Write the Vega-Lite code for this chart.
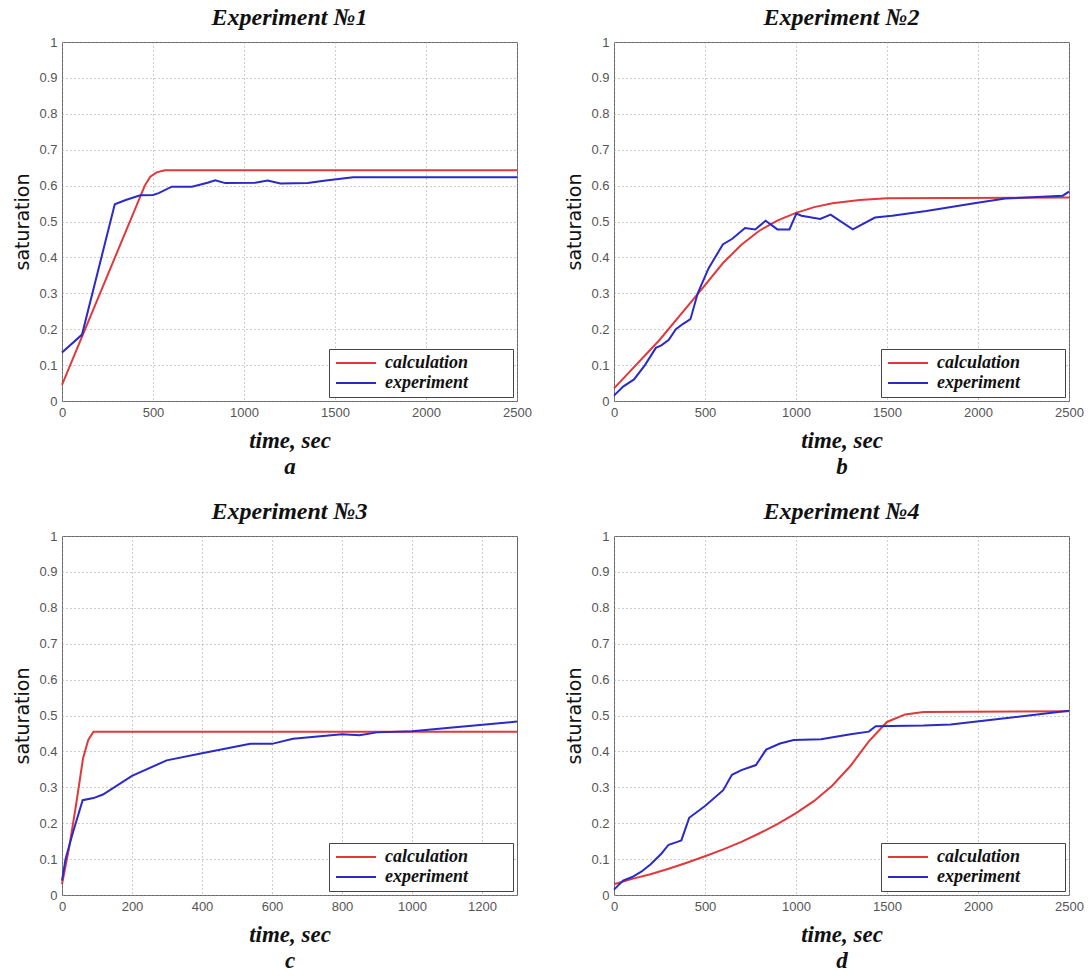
{
  "$schema": "https://vega.github.io/schema/vega-lite/v6.json",
  "background": "white",
  "padding": {"left": 13, "top": 5, "right": 8, "bottom": 2},
  "columns": 2,
  "spacing": {"row": 20, "column": 33},
  "resolve": {"legend": {"color": "independent"}, "scale": {"color": "independent"}},
  "config": {
    "view": {"stroke": "#666", "strokeWidth": 1},
    "title": {"font": "Liberation Serif", "fontStyle": "italic", "fontWeight": "bold", "fontSize": 24, "color": "#111", "offset": 6},
    "axis": {
      "grid": true, "gridColor": "#9a9a9a", "gridDash": [1, 3], "gridWidth": 1,
      "domain": false, "ticks": false, "labelFlush": false,
      "labelFont": "Liberation Sans", "labelFontSize": 13, "labelColor": "#555", "labelPadding": 5
    },
    "axisX": {
      "format": "d",
      "titleFont": "Liberation Serif", "titleFontStyle": "italic", "titleFontWeight": "bold", "titleFontSize": 23,
      "titleColor": "#111", "titlePadding": 10, "titleLineHeight": 26
    },
    "axisY": {
      "titleFont": "DejaVu Sans", "titleFontWeight": "normal", "titleFontSize": 19, "titleColor": "#111", "titlePadding": 6,
      "values": [0, 0.1, 0.2, 0.3, 0.4, 0.5, 0.6, 0.7, 0.8, 0.9, 1], "format": "~g"
    },
    "legend": {
      "orient": "bottom-right", "offset": 4, "strokeColor": "#444", "fillColor": "white", "padding": 5,
      "symbolType": "M-2.86,0H2.86", "symbolSize": 196, "symbolStrokeWidth": 2.5, "symbolOffset": 13,
      "labelFont": "Liberation Serif", "labelFontStyle": "italic", "labelFontWeight": "bold", "labelFontSize": 18, "labelColor": "#111",
      "rowPadding": 2, "labelOffset": 20
    },
    "line": {"strokeWidth": 2}
  },
  "datasets": {
    "a": [
      {"t": 0, "s": 0.045, "series": "calculation"},
      {"t": 455, "s": 0.6, "series": "calculation"},
      {"t": 485, "s": 0.625, "series": "calculation"},
      {"t": 520, "s": 0.637, "series": "calculation"},
      {"t": 565, "s": 0.643, "series": "calculation"},
      {"t": 2500, "s": 0.643, "series": "calculation"},
      {"t": 0, "s": 0.135, "series": "experiment"},
      {"t": 110, "s": 0.185, "series": "experiment"},
      {"t": 290, "s": 0.548, "series": "experiment"},
      {"t": 350, "s": 0.56, "series": "experiment"},
      {"t": 430, "s": 0.573, "series": "experiment"},
      {"t": 500, "s": 0.574, "series": "experiment"},
      {"t": 531, "s": 0.579, "series": "experiment"},
      {"t": 603, "s": 0.597, "series": "experiment"},
      {"t": 714, "s": 0.597, "series": "experiment"},
      {"t": 800, "s": 0.608, "series": "experiment"},
      {"t": 842, "s": 0.615, "series": "experiment"},
      {"t": 897, "s": 0.607, "series": "experiment"},
      {"t": 1062, "s": 0.608, "series": "experiment"},
      {"t": 1130, "s": 0.614, "series": "experiment"},
      {"t": 1200, "s": 0.606, "series": "experiment"},
      {"t": 1350, "s": 0.607, "series": "experiment"},
      {"t": 1450, "s": 0.614, "series": "experiment"},
      {"t": 1600, "s": 0.623, "series": "experiment"},
      {"t": 2500, "s": 0.623, "series": "experiment"}
    ],
    "b": [
      {"t": 0, "s": 0.035, "series": "calculation"},
      {"t": 250, "s": 0.17, "series": "calculation"},
      {"t": 480, "s": 0.31, "series": "calculation"},
      {"t": 600, "s": 0.385, "series": "calculation"},
      {"t": 700, "s": 0.435, "series": "calculation"},
      {"t": 800, "s": 0.475, "series": "calculation"},
      {"t": 900, "s": 0.503, "series": "calculation"},
      {"t": 1000, "s": 0.524, "series": "calculation"},
      {"t": 1100, "s": 0.54, "series": "calculation"},
      {"t": 1200, "s": 0.551, "series": "calculation"},
      {"t": 1350, "s": 0.56, "series": "calculation"},
      {"t": 1500, "s": 0.565, "series": "calculation"},
      {"t": 2500, "s": 0.567, "series": "calculation"},
      {"t": 0, "s": 0.015, "series": "experiment"},
      {"t": 50, "s": 0.04, "series": "experiment"},
      {"t": 110, "s": 0.06, "series": "experiment"},
      {"t": 170, "s": 0.1, "series": "experiment"},
      {"t": 230, "s": 0.148, "series": "experiment"},
      {"t": 260, "s": 0.155, "series": "experiment"},
      {"t": 300, "s": 0.17, "series": "experiment"},
      {"t": 340, "s": 0.2, "series": "experiment"},
      {"t": 380, "s": 0.215, "series": "experiment"},
      {"t": 420, "s": 0.228, "series": "experiment"},
      {"t": 460, "s": 0.3, "series": "experiment"},
      {"t": 520, "s": 0.37, "series": "experiment"},
      {"t": 598, "s": 0.436, "series": "experiment"},
      {"t": 650, "s": 0.452, "series": "experiment"},
      {"t": 720, "s": 0.482, "series": "experiment"},
      {"t": 776, "s": 0.478, "series": "experiment"},
      {"t": 833, "s": 0.502, "series": "experiment"},
      {"t": 898, "s": 0.478, "series": "experiment"},
      {"t": 964, "s": 0.478, "series": "experiment"},
      {"t": 1002, "s": 0.522, "series": "experiment"},
      {"t": 1030, "s": 0.516, "series": "experiment"},
      {"t": 1133, "s": 0.507, "series": "experiment"},
      {"t": 1190, "s": 0.519, "series": "experiment"},
      {"t": 1312, "s": 0.478, "series": "experiment"},
      {"t": 1434, "s": 0.511, "series": "experiment"},
      {"t": 1528, "s": 0.516, "series": "experiment"},
      {"t": 1716, "s": 0.529, "series": "experiment"},
      {"t": 1997, "s": 0.552, "series": "experiment"},
      {"t": 2150, "s": 0.564, "series": "experiment"},
      {"t": 2466, "s": 0.572, "series": "experiment"},
      {"t": 2500, "s": 0.583, "series": "experiment"}
    ],
    "c": [
      {"t": 0, "s": 0.03, "series": "calculation"},
      {"t": 20, "s": 0.13, "series": "calculation"},
      {"t": 40, "s": 0.25, "series": "calculation"},
      {"t": 60, "s": 0.38, "series": "calculation"},
      {"t": 75, "s": 0.432, "series": "calculation"},
      {"t": 90, "s": 0.455, "series": "calculation"},
      {"t": 1300, "s": 0.455, "series": "calculation"},
      {"t": 0, "s": 0.04, "series": "experiment"},
      {"t": 10, "s": 0.1, "series": "experiment"},
      {"t": 30, "s": 0.17, "series": "experiment"},
      {"t": 59, "s": 0.264, "series": "experiment"},
      {"t": 90, "s": 0.27, "series": "experiment"},
      {"t": 117, "s": 0.28, "series": "experiment"},
      {"t": 200, "s": 0.332, "series": "experiment"},
      {"t": 299, "s": 0.375, "series": "experiment"},
      {"t": 400, "s": 0.395, "series": "experiment"},
      {"t": 538, "s": 0.421, "series": "experiment"},
      {"t": 600, "s": 0.421, "series": "experiment"},
      {"t": 660, "s": 0.435, "series": "experiment"},
      {"t": 800, "s": 0.448, "series": "experiment"},
      {"t": 850, "s": 0.445, "series": "experiment"},
      {"t": 900, "s": 0.453, "series": "experiment"},
      {"t": 1000, "s": 0.456, "series": "experiment"},
      {"t": 1100, "s": 0.465, "series": "experiment"},
      {"t": 1300, "s": 0.483, "series": "experiment"}
    ],
    "d": [
      {"t": 0, "s": 0.03, "series": "calculation"},
      {"t": 100, "s": 0.045, "series": "calculation"},
      {"t": 200, "s": 0.058, "series": "calculation"},
      {"t": 300, "s": 0.073, "series": "calculation"},
      {"t": 400, "s": 0.09, "series": "calculation"},
      {"t": 500, "s": 0.108, "series": "calculation"},
      {"t": 600, "s": 0.127, "series": "calculation"},
      {"t": 700, "s": 0.148, "series": "calculation"},
      {"t": 800, "s": 0.172, "series": "calculation"},
      {"t": 900, "s": 0.198, "series": "calculation"},
      {"t": 1000, "s": 0.228, "series": "calculation"},
      {"t": 1100, "s": 0.262, "series": "calculation"},
      {"t": 1200, "s": 0.305, "series": "calculation"},
      {"t": 1300, "s": 0.36, "series": "calculation"},
      {"t": 1400, "s": 0.428, "series": "calculation"},
      {"t": 1500, "s": 0.482, "series": "calculation"},
      {"t": 1600, "s": 0.503, "series": "calculation"},
      {"t": 1700, "s": 0.51, "series": "calculation"},
      {"t": 2500, "s": 0.512, "series": "calculation"},
      {"t": 0, "s": 0.015, "series": "experiment"},
      {"t": 50, "s": 0.04, "series": "experiment"},
      {"t": 100, "s": 0.05, "series": "experiment"},
      {"t": 150, "s": 0.065, "series": "experiment"},
      {"t": 200, "s": 0.085, "series": "experiment"},
      {"t": 260, "s": 0.115, "series": "experiment"},
      {"t": 300, "s": 0.14, "series": "experiment"},
      {"t": 348, "s": 0.148, "series": "experiment"},
      {"t": 370, "s": 0.152, "series": "experiment"},
      {"t": 413, "s": 0.215, "series": "experiment"},
      {"t": 500, "s": 0.248, "series": "experiment"},
      {"t": 600, "s": 0.292, "series": "experiment"},
      {"t": 648, "s": 0.335, "series": "experiment"},
      {"t": 700, "s": 0.348, "series": "experiment"},
      {"t": 780, "s": 0.362, "series": "experiment"},
      {"t": 836, "s": 0.405, "series": "experiment"},
      {"t": 912, "s": 0.422, "series": "experiment"},
      {"t": 987, "s": 0.432, "series": "experiment"},
      {"t": 1137, "s": 0.434, "series": "experiment"},
      {"t": 1300, "s": 0.448, "series": "experiment"},
      {"t": 1400, "s": 0.455, "series": "experiment"},
      {"t": 1438, "s": 0.47, "series": "experiment"},
      {"t": 1701, "s": 0.472, "series": "experiment"},
      {"t": 1850, "s": 0.475, "series": "experiment"},
      {"t": 2077, "s": 0.488, "series": "experiment"},
      {"t": 2500, "s": 0.513, "series": "experiment"}
    ]
  },
  "concat": [
    {
      "title": "Experiment №1",
      "width": 455, "height": 359,
      "data": {"name": "a"},
      "mark": "line",
      "encoding": {
        "x": {"field": "t", "type": "quantitative", "scale": {"domain": [0, 2500], "nice": false}, "axis": {"values": [0, 500, 1000, 1500, 2000, 2500], "title": ["time, sec", "a"]}},
        "y": {"field": "s", "type": "quantitative", "scale": {"domain": [0, 1], "nice": false}, "axis": {"title": "saturation"}},
        "color": {"field": "series", "type": "nominal", "scale": {"domain": ["calculation", "experiment"], "range": ["#e0393b", "#2a2ac8"]}, "legend": {"title": null, "labelExpr": "datum.label + '\u2800\u2800\u2800'"}}
      }
    },
    {
      "title": "Experiment №2",
      "width": 455, "height": 359,
      "data": {"name": "b"},
      "mark": "line",
      "encoding": {
        "x": {"field": "t", "type": "quantitative", "scale": {"domain": [0, 2500], "nice": false}, "axis": {"values": [0, 500, 1000, 1500, 2000, 2500], "title": ["time, sec", "b"]}},
        "y": {"field": "s", "type": "quantitative", "scale": {"domain": [0, 1], "nice": false}, "axis": {"title": "saturation"}},
        "color": {"field": "series", "type": "nominal", "scale": {"domain": ["calculation", "experiment"], "range": ["#e0393b", "#2a2ac8"]}, "legend": {"title": null, "labelExpr": "datum.label + '\u2800\u2800\u2800'"}}
      }
    },
    {
      "title": "Experiment №3",
      "width": 455, "height": 359,
      "data": {"name": "c"},
      "mark": "line",
      "encoding": {
        "x": {"field": "t", "type": "quantitative", "scale": {"domain": [0, 1300], "nice": false}, "axis": {"values": [0, 200, 400, 600, 800, 1000, 1200], "title": ["time, sec", "c"]}},
        "y": {"field": "s", "type": "quantitative", "scale": {"domain": [0, 1], "nice": false}, "axis": {"title": "saturation"}},
        "color": {"field": "series", "type": "nominal", "scale": {"domain": ["calculation", "experiment"], "range": ["#e0393b", "#2a2ac8"]}, "legend": {"title": null, "labelExpr": "datum.label + '\u2800\u2800\u2800'"}}
      }
    },
    {
      "title": "Experiment №4",
      "width": 455, "height": 359,
      "data": {"name": "d"},
      "mark": "line",
      "encoding": {
        "x": {"field": "t", "type": "quantitative", "scale": {"domain": [0, 2500], "nice": false}, "axis": {"values": [0, 500, 1000, 1500, 2000, 2500], "title": ["time, sec", "d"]}},
        "y": {"field": "s", "type": "quantitative", "scale": {"domain": [0, 1], "nice": false}, "axis": {"title": "saturation"}},
        "color": {"field": "series", "type": "nominal", "scale": {"domain": ["calculation", "experiment"], "range": ["#e0393b", "#2a2ac8"]}, "legend": {"title": null, "labelExpr": "datum.label + '\u2800\u2800\u2800'"}}
      }
    }
  ]
}
